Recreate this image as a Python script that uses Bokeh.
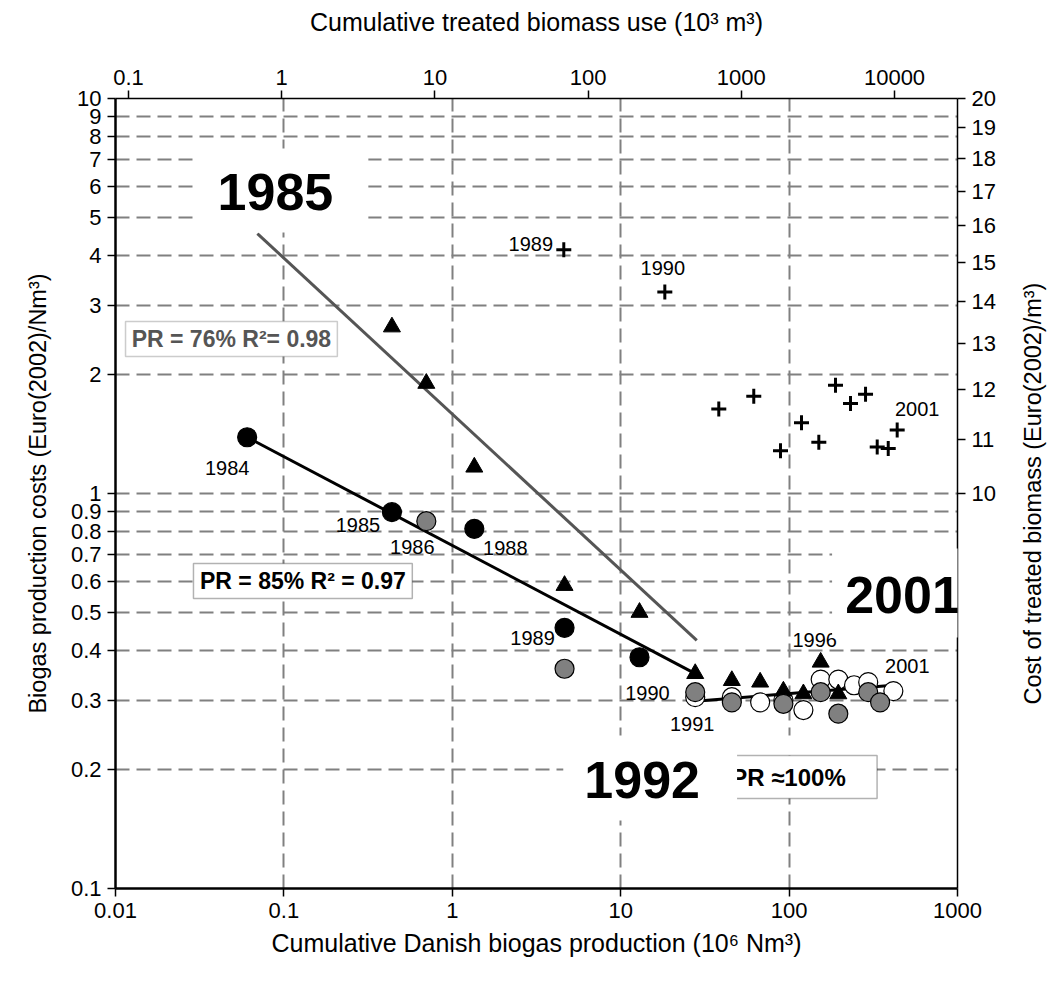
import math
from bokeh.plotting import figure
from bokeh.layouts import row
from bokeh.models import (Range1d, LogScale, LogAxis, FixedTicker,
                          CustomJSTickFormatter, Label, BoxAnnotation)
from bokeh.embed import file_html
from bokeh.resources import INLINE

FONT = "Liberation Sans"

# ---------------- data ----------------
bottom_ticks = [0.01, 0.1, 1, 10, 100, 1000]
vgrid_ticks = [0.1, 1, 10, 100]
left_ticks = [0.1, 0.2, 0.3, 0.4, 0.5, 0.6, 0.7, 0.8, 0.9,
              1, 2, 3, 4, 5, 6, 7, 8, 9, 10]
top_ticks = [0.1, 1, 10, 100, 1000, 10000]
right_ticks = [10, 11, 12, 13, 14, 15, 16, 17, 18, 19, 20]

# black circles (labelled years)
black_years = ["1984", "1985", "1988", "1989", "1990"]
black_x = [0.0605, 0.438, 1.351, 4.64, 12.93]
black_y = [1.388, 0.897, 0.814, 0.457, 0.385]

# grey circles
gray_x = [0.701, 4.64, 27.7, 45.7, 92.5, 154, 196, 295, 347]
gray_y = [0.851, 0.360, 0.314, 0.296, 0.2935, 0.314, 0.277, 0.314, 0.296]

# open circles
open_x = [27.7, 45.7, 67.3, 92.5, 121.6, 154, 196, 243, 295, 416]
open_y = [0.305, 0.305, 0.296, 0.300, 0.283, 0.338, 0.338, 0.327, 0.333, 0.316]

# black triangles
tri_x = [0.438, 0.701, 1.351, 4.64, 12.93, 27.7, 45.7, 67.3, 92.5, 121.6, 154, 196]
tri_y = [2.64, 1.90, 1.166, 0.585, 0.50, 0.35, 0.336, 0.333, 0.316, 0.311, 0.374, 0.311]

# crosses: treated biomass (top axis) vs cost (right axis)
plus_years = ["1989", "1990", "1991", "1992", "1993", "1994", "1995",
              "1996", "1997", "1998", "1999", "2000", "2001"]
plus_x = [69.4, 316.8, 713, 1206, 1803, 2472, 3206, 4120, 5160, 6470, 7710, 9100, 10410]
plus_y = [15.34, 14.24, 11.60, 11.86, 10.78, 11.32, 10.94, 12.09, 11.71, 11.90, 10.85, 10.82, 11.18]

# fitted experience curves
fit76_x = [0.0696, 28.3]
fit76_y = [4.55, 0.4246]
fit85_x = [0.0605, 27.7]
fit85_y = [1.388, 0.350]
fit100_x = [27.7, 416]
fit100_y = [0.298, 0.327]

# ---------------- main figure ----------------
p = figure(width=1010, height=987, x_axis_type="log", y_axis_type="log",
           x_range=Range1d(0.01, 1000), y_range=Range1d(0.1, 10),
           output_backend="svg", toolbar_location=None,
           min_border_left=115, min_border_right=53,
           min_border_top=98, min_border_bottom=99)
p.outline_line_color = None
p.background_fill_color = "white"
p.border_fill_color = "white"

p.extra_x_ranges = {"top": Range1d(0.0823, 25770)}
p.extra_x_scales = {"top": LogScale()}
p.extra_y_ranges = {"right": Range1d(5, 20)}
p.extra_y_scales = {"right": LogScale()}

fmt_code = "return String(tick);"

def style_axis(ax, ticks, title, lw, standoff, title_size="25px"):
    ax.ticker = FixedTicker(ticks=ticks)
    ax.formatter = CustomJSTickFormatter(code=fmt_code)
    ax.axis_label = title
    ax.axis_label_text_font = FONT
    ax.axis_label_text_font_size = title_size
    ax.axis_label_text_font_style = "normal"
    ax.axis_label_text_color = "black"
    ax.axis_label_standoff = standoff
    ax.major_label_text_font = FONT
    ax.major_label_text_font_size = "22px"
    ax.major_label_text_color = "black"
    ax.major_label_standoff = 6
    ax.axis_line_color = "black"
    ax.axis_line_width = lw
    ax.major_tick_line_color = "black"
    ax.major_tick_line_width = 1.5
    ax.major_tick_out = 8
    ax.major_tick_in = 0
    ax.minor_tick_out = 0
    ax.minor_tick_in = 0
    ax.minor_tick_line_color = None

bottom = p.below[0]
left = p.left[0]
style_axis(bottom, bottom_ticks, "Cumulative Danish biogas production (10\u2076 Nm\u00b3)", 2.5, 8)
style_axis(left, left_ticks, "Biogas production costs (Euro(2002)/Nm\u00b3)", 2.5, 17, "23.5px")

top = LogAxis(x_range_name="top")
style_axis(top, top_ticks, "Cumulative treated biomass use (10\u00b3 m\u00b3)", 1.5, 31)
p.add_layout(top, "above")

right = LogAxis(y_range_name="right")
style_axis(right, right_ticks, "", 1.5, 24)
p.add_layout(right, "right")

# grid
p.xgrid.ticker = FixedTicker(ticks=vgrid_ticks)
p.ygrid.ticker = FixedTicker(ticks=left_ticks[1:])
for g in (p.xgrid[0], p.ygrid[0]):
    g.grid_line_color = "#808080"
    g.grid_line_width = 2
    g.grid_line_dash = "14 7"

# ---------------- lines ----------------
p.line(fit76_x, fit76_y, line_color="#555555", line_width=3)
p.line(fit85_x, fit85_y, line_color="black", line_width=3)
p.line(fit100_x, fit100_y, line_color="black", line_width=3)

# ---------------- markers ----------------
p.scatter(open_x, open_y, marker="circle", size=19, fill_color="white",
          line_color="black", line_width=1.2)
p.scatter(tri_x, tri_y, marker="triangle", size=17, fill_color="black",
          line_color="black")
p.scatter(gray_x, gray_y, marker="circle", size=19, fill_color="#808080",
          line_color="black", line_width=1.2)
p.scatter(black_x, black_y, marker="circle", size=19, fill_color="black",
          line_color="black", line_width=1.2)
p.scatter(plus_x, plus_y, marker="cross", size=15, line_color="black",
          line_width=3, x_range_name="top", y_range_name="right")

# ---------------- annotations ----------------
def lab(x, y, text, dx=0, dy=0, size="20px", style="normal", color="black",
        align="center", fig=p, **kw):
    fig.add_layout(Label(x=x, y=y, text=text, x_offset=dx, y_offset=-dy,
                         text_align=align, text_baseline="middle",
                         text_font=FONT, text_font_size=size,
                         text_font_style=style, text_color=color, **kw))

# year labels next to points
lab(black_x[0], black_y[0], black_years[0], -20, 31)
lab(black_x[1], black_y[1], black_years[1], -34, 13)
lab(gray_x[0], gray_y[0], "1986", -14, 26)
lab(black_x[2], black_y[2], black_years[2], 31, 19)
lab(black_x[3], black_y[3], black_years[3], -32, 10)
lab(black_x[4], black_y[4], black_years[4], 8, 36)
lab(gray_x[2], gray_y[2], "1991", -3, 32)
lab(tri_x[10], tri_y[10], "1996", -6, -22)
lab(open_x[9], open_y[9], "2001", 14, -25)
lab(plus_x[0], plus_y[0], plus_years[0], -33, -6, x_range_name="top", y_range_name="right")
lab(plus_x[1], plus_y[1], plus_years[1], -2, -24, x_range_name="top", y_range_name="right")
lab(plus_x[12], plus_y[12], plus_years[12], 20, -21, x_range_name="top", y_range_name="right")

# PR boxes
p.add_layout(BoxAnnotation(left=0.01147, right=0.2077, bottom=2.222, top=2.725,
                           fill_color="white", fill_alpha=1, line_color="#555555",
                           line_width=1.5))
lab(0.0488, 2.46, "PR = 76% R\u00b2= 0.98", size="23px", style="bold", color="#555555")

p.add_layout(BoxAnnotation(left=0.02904, right=0.5788, bottom=0.5423, top=0.6649,
                           fill_color="white", fill_alpha=1, line_color="black",
                           line_width=1.5))
lab(0.1297, 0.6006, "PR = 85% R\u00b2 = 0.97", size="23px", style="bold")

# white strip above the PR~100% box (gridline gap)
p.add_layout(BoxAnnotation(left=49.1, right=333, bottom=0.2171, top=0.2439,
                           fill_color="white", fill_alpha=1, line_color=None))
p.add_layout(BoxAnnotation(left=31.7, right=333, bottom=0.169, top=0.2171,
                           fill_color="white", fill_alpha=1, line_color="black",
                           line_width=1.5))
lab(45.3, 0.191, "PR \u2248100%", size="24px", style="bold", align="left")

# big year labels on white masks
p.add_layout(BoxAnnotation(left=4.56, right=49.1, bottom=0.1487, top=0.2439,
                           fill_color="white", fill_alpha=1, line_color=None))
lab(13.41, 0.1877, "1992", size="52px", style="bold")

p.add_layout(BoxAnnotation(left=180, right=1270, bottom=0.4318, top=0.7259,
                           fill_color="white", fill_alpha=1, line_color=None))
lab(474.9, 0.5518, "2001", size="52px", style="bold")

p.add_layout(BoxAnnotation(left=0.0311, right=0.3173, bottom=4.58, top=7.47,
                           fill_color="white", fill_alpha=1, line_color=None))
lab(0.089, 5.815, "1985", size="52px", style="bold")

# ---------------- right-hand title strip ----------------
q = figure(width=47, height=987, x_range=Range1d(0, 1), y_range=Range1d(0, 1),
           output_backend="svg", toolbar_location=None,
           x_axis_location=None, y_axis_location=None,
           min_border=0, min_border_left=0, min_border_right=0,
           min_border_top=0, min_border_bottom=0)
q.outline_line_color = None
q.grid.visible = False
q.background_fill_color = "white"
q.border_fill_color = "white"
q.add_layout(Label(x=0.47, y=0.5, text="Cost of treated biomass (Euro(2002)/m\u00b3)",
                   angle=math.pi / 2, text_align="center", text_baseline="middle",
                   text_font=FONT, text_font_size="23.5px", text_color="black"))

layout = row(p, q, spacing=0)
open("out.html", "w").write(file_html(layout, INLINE))
